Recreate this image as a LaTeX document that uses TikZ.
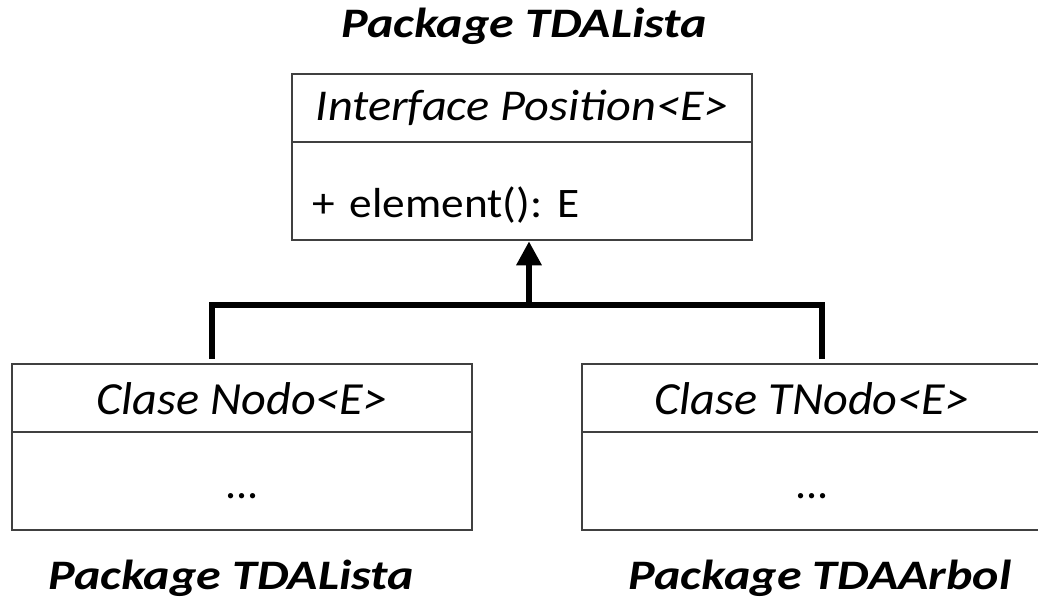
\documentclass[tikz,border=0pt]{standalone}
\usepackage{fontspec}
\setmainfont{Carlito}
\usetikzlibrary{positioning, arrows.meta}
\definecolor{borde}{RGB}{64,64,64}
\newcommand{\estira}[2]{\scalebox{#1}[1]{#2}}
\frenchspacing
\tikzset{
  compart/.style={draw=borde, line width=2.5pt, minimum width=460pt, inner xsep=20pt, text depth=0pt},
  titulo/.style={font=\fontsize{46}{48}\selectfont\itshape},
  cuerpo/.style={font=\fontsize{44}{46}\selectfont},
  pkg/.style={font=\fontsize{42}{44}\selectfont\bfseries\itshape, inner sep=0pt},
  conector/.style={line width=6pt, black},
}
\begin{document}
\begin{tikzpicture}[x=1pt,y=-1pt]
  \useasboundingbox (0,0) rectangle (1038,607);
  \clip (0,0) rectangle (1038,607);
  % interfaz
  \node[pkg, anchor=base] (pkgtop) at (524,38) {\estira{1.19}{Package TDALista}};
  \node[compart, titulo, font=\fontsize{44}{46}\selectfont\itshape, minimum height=68pt, text height=26pt] (iface) at (522,108) {\estira{1.1}{Interface Position<E>}};
  \node[compart, cuerpo, font=\fontsize{42}{44}\selectfont, minimum height=98pt, text height=52pt, text width=420pt, align=left] (ifaceops) at (522,191) {\estira{1.08}{+ element(): E}};
  % clases
  \node[compart, titulo, minimum height=68pt, text height=32pt] (nodo) at (242,398) {\estira{1.05}{Clase Nodo<E>}};
  \node[compart, cuerpo, minimum height=98pt, text height=34pt] (nodoops) at (242,481) {...};
  \node[compart, titulo, minimum height=68pt, text height=32pt] (tnodo) at (812,398) {\estira{1.05}{Clase TNodo<E>}};
  \node[compart, cuerpo, minimum height=98pt, text height=34pt] (tnodoops) at (812,481) {...};
  \node[pkg, anchor=base] (pkglista) at (231,589) {\estira{1.19}{Package TDALista}};
  \node[pkg, anchor=base] (pkgarbol) at (820,589) {\estira{1.19}{Package TDAArbol}};
  % herencia
  \coordinate (junta) at (529,305);
  \coordinate (izq) at (212,305);
  \coordinate (der) at (822,305);
  \draw[conector] ([yshift=4pt]izq |- nodo.north) -- (izq) -- (der) -- ([yshift=4pt]der |- tnodo.north);
  \draw[conector, -{Triangle[length=24pt,width=24pt]}] (junta) -- (junta |- ifaceops.south);
\end{tikzpicture}
\end{document}
